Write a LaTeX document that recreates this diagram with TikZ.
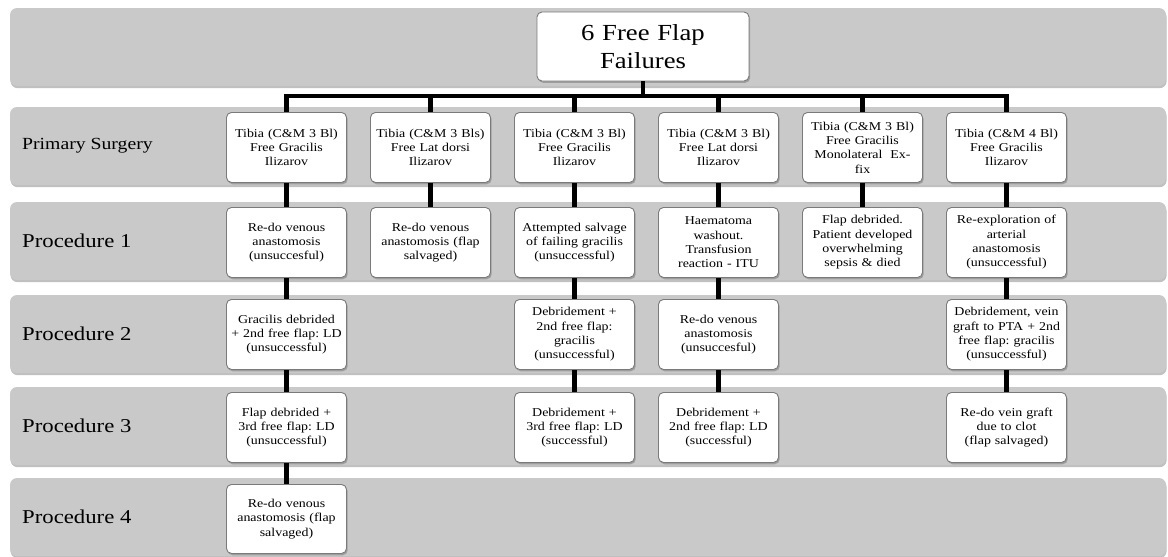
\documentclass[tikz,border=0pt]{standalone}
\usepackage{fontspec}
\setmainfont{Liberation Serif}[FakeStretch=1.16]
\usetikzlibrary{shadows}
\definecolor{bandgray}{HTML}{C9C9C9}
\definecolor{boxborder}{HTML}{7A7A7A}
\tikzset{
  band/.style={fill=bandgray, rounded corners=7pt,
    drop shadow={shadow xshift=0.6pt, shadow yshift=-2.2pt, opacity=0.45, fill=black!55}},
  flapbox/.style={draw=boxborder, line width=0.9pt, fill=white, rounded corners=5pt,
    minimum width=120pt, minimum height=70pt, text width=117pt, inner sep=0pt,
    align=center, anchor=north, font=\fontsize{12}{14.3}\selectfont,
    drop shadow={shadow xshift=1.2pt, shadow yshift=-1.8pt, opacity=0.5, fill=black!55}},
  titlebox/.style={flapbox, anchor=center, minimum width=212pt, minimum height=69pt,
    text width=208pt, font=\fontsize{23}{27.7}\selectfont},
  rowlabel/.style={anchor=west, inner sep=0pt, font=\fontsize{19.6}{22}\selectfont},
  conn/.style={line width=4.6pt, black},
}
\frenchspacing
\begin{document}
\begin{tikzpicture}[x=1pt,y=-1pt]
\useasboundingbox (0,0) rectangle (1168,557);
% bands
\path[band] (10,8) rectangle (1166,86);
\path[band] (10,107) rectangle (1166,185);
\path[band] (10,202) rectangle (1166,280);
\path[band] (10,295) rectangle (1166,373);
\path[band] (10,387) rectangle (1166,465);
\path[band] (10,478) rectangle (1166,556);
% row labels
\node[rowlabel, font=\fontsize{17}{20}\selectfont] (lp) at (22,146) {Primary Surgery};
\node[rowlabel] (l1) at (22,241) {Procedure 1};
\node[rowlabel] (l2) at (22,334) {Procedure 2};
\node[rowlabel] (l3) at (22,426) {Procedure 3};
\node[rowlabel] (l4) at (22,517) {Procedure 4};
% title
\node[titlebox] (t) at (643,46.5) {6 Free Flap\\Failures};
\coordinate (bus) at (643,96);
% primary surgery
\node[flapbox] (a0) at (286.5,112) {Tibia (C\&M 3 Bl)\\Free Gracilis\\Ilizarov};
\node[flapbox] (b0) at (430.5,112) {Tibia (C\&M 3 Bls)\\Free Lat dorsi\\Ilizarov};
\node[flapbox] (c0) at (574.5,112) {Tibia (C\&M 3 Bl)\\Free Gracilis\\Ilizarov};
\node[flapbox] (d0) at (718.5,112) {Tibia (C\&M 3 Bl)\\Free Lat dorsi\\Ilizarov};
\node[flapbox] (e0) at (862.5,112) {Tibia (C\&M 3 Bl)\\Free Gracilis\\Monolateral\ \ Ex-\\fix};
\node[flapbox] (f0) at (1006.5,112) {Tibia (C\&M 4 Bl)\\Free Gracilis\\Ilizarov};
% procedure 1
\node[flapbox] (a1) at (286.5,207) {Re-do venous\\anastomosis\\(unsuccesful)};
\node[flapbox] (b1) at (430.5,207) {Re-do venous\\anastomosis (flap\\salvaged)};
\node[flapbox] (c1) at (574.5,207) {Attempted salvage\\of failing gracilis\\(unsuccessful)};
\node[flapbox] (d1) at (718.5,207) {Haematoma\\washout.\\Transfusion\\reaction - ITU};
\node[flapbox] (e1) at (862.5,207) {Flap debrided.\\Patient developed\\overwhelming\\sepsis \& died};
\node[flapbox] (f1) at (1006.5,207) {Re-exploration of\\arterial\\anastomosis\\(unsuccessful)};
% procedure 2
\node[flapbox] (a2) at (286.5,299) {Gracilis debrided\\+ 2nd free flap: LD\\(unsuccessful)};
\node[flapbox] (c2) at (574.5,299) {Debridement +\\2nd free flap:\\gracilis\\(unsuccessful)};
\node[flapbox] (d2) at (718.5,299) {Re-do venous\\anastomosis\\(unsuccesful)};
\node[flapbox] (f2) at (1006.5,299) {Debridement, vein\\graft to PTA + 2nd\\free flap: gracilis\\(unsuccessful)};
% procedure 3
\node[flapbox] (a3) at (286.5,392) {Flap debrided +\\3rd free flap: LD\\(unsuccessful)};
\node[flapbox] (c3) at (574.5,392) {Debridement +\\3rd free flap: LD\\(successful)};
\node[flapbox] (d3) at (718.5,392) {Debridement +\\2nd free flap: LD\\(successful)};
\node[flapbox] (f3) at (1006.5,392) {Re-do vein graft\\due to clot\\(flap salvaged)};
% procedure 4
\node[flapbox, minimum height=69pt] (a4) at (286.5,484) {Re-do venous\\anastomosis (flap\\salvaged)};
% connectors
\foreach \n in {a0,b0,c0,d0,e0,f0}{
  \draw[conn] (t.south) -- (bus) -| (\n.north);
}
\draw[conn] (a0.south) -- (a1.north);
\draw[conn] (a1.south) -- (a2.north);
\draw[conn] (a2.south) -- (a3.north);
\draw[conn] (a3.south) -- (a4.north);
\draw[conn] (b0.south) -- (b1.north);
\draw[conn] (c0.south) -- (c1.north);
\draw[conn] (c1.south) -- (c2.north);
\draw[conn] (c2.south) -- (c3.north);
\draw[conn] (d0.south) -- (d1.north);
\draw[conn] (d1.south) -- (d2.north);
\draw[conn] (d2.south) -- (d3.north);
\draw[conn] (e0.south) -- (e1.north);
\draw[conn] (f0.south) -- (f1.north);
\draw[conn] (f1.south) -- (f2.north);
\draw[conn] (f2.south) -- (f3.north);
\end{tikzpicture}
\end{document}
